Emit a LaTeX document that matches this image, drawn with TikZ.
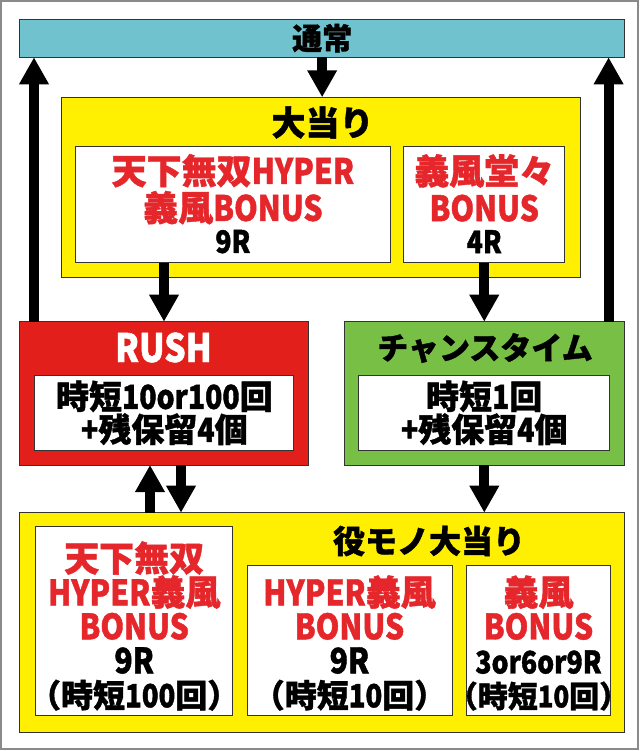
\documentclass[tikz,border=0pt]{standalone}
\usepackage{fontspec}
\usetikzlibrary{arrows.meta}
\IfFontExistsTF{Noto Sans CJK JP Black}
 {\newfontfamily\jpfam{Noto Sans CJK JP Black}[FakeBold=1.2]\newfontfamily\ltfam{Noto Sans CJK JP Black}[FakeStretch=0.86,FakeBold=1.2]}
 {\newfontfamily\jpfam{Noto Sans CJK JP Bold}[FakeBold=2.2]\newfontfamily\ltfam{Noto Sans CJK JP Bold}[FakeStretch=0.86,FakeBold=2.2]}
\newcommand\LT[1]{{\ltfam #1}}
\newcommand\fs[2]{\fontsize{#1}{#2}\selectfont}
\definecolor{barc}{HTML}{70C3CE}
\definecolor{yel}{HTML}{FFEF00}
\definecolor{rushred}{HTML}{E31F1C}
\definecolor{grn}{HTML}{77BF45}
\definecolor{txtred}{HTML}{E5262B}
\definecolor{framegray}{HTML}{8A8A8A}
\begin{document}
\begin{tikzpicture}[x=1pt,y=-1pt,
  box/.style={draw=black!80, line width=0.9pt, anchor=north west, inner sep=0pt, outer sep=0pt},
  arr/.style={line width=10pt, -{Triangle[width=28pt,length=27pt]}},
  txt/.style={inner sep=0pt, align=center},
]
\useasboundingbox (0,0) rectangle (642,751);
\fill[white] (0,0) rectangle (642,751);
\draw[framegray, line width=2pt] (1,1) rectangle (637.5,748.5);
% boxes
\node[box, fill=barc, minimum width=604.9pt, minimum height=38.3pt] (bar) at (19.7,19) {};
\node[box, fill=yel, minimum width=518.5pt, minimum height=180.4pt] (oa) at (61.5,97.3) {};
\node[box, fill=white, minimum width=314.2pt, minimum height=116pt] (w1) at (75.8,146.7) {};
\node[box, fill=white, minimum width=161.1pt, minimum height=116pt] (w2) at (403.7,146.7) {};
\node[box, fill=rushred, minimum width=288.9pt, minimum height=143.3pt] (rush) at (19.7,321.7) {};
\node[box, fill=white, minimum width=259.1pt, minimum height=75.7pt] (rin) at (34.8,375) {};
\node[box, fill=grn, minimum width=280.6pt, minimum height=143.3pt] (chance) at (344,321.7) {};
\node[box, fill=white, minimum width=251.2pt, minimum height=75.7pt] (cin) at (358.6,375) {};
\node[box, fill=yel, minimum width=604.9pt, minimum height=219.6pt] (yb) at (19.7,512.7) {};
\node[box, fill=white, minimum width=197.1pt, minimum height=189.7pt] (wa) at (35.7,526) {};
\node[box, fill=white, minimum width=205pt, minimum height=150.4pt] (wb) at (247,565.3) {};
\node[box, fill=white, minimum width=144.3pt, minimum height=150.4pt] (wc) at (466.4,565.3) {};
% texts
\node[txt, font=\jpfam\fs{30}{30}] (tn) at (bar.center) {通常};
\node[txt, font=\jpfam\fs{34}{34}] (tat) at (322.5,122.5) {大当り};
\node[txt, text=txtred, font=\jpfam\fs{35}{37}] (t1) at ([yshift=1pt]w1.center) {天下無双\LT{HYPER}\\義風\LT{BONUS}\\[-5pt]{\color{black}\fs{31}{37}\LT{9R}}};
\node[txt, text=txtred, font=\jpfam\fs{35}{37}] (t2) at ([yshift=1pt]w2.center) {義風堂々\\\LT{BONUS}\\[-5pt]{\color{black}\fs{31}{37}\LT{4R}}};
\node[txt, text=white, font=\ltfam\fs{39}{39}] (tr) at (163.5,347.5) {RUSH};
\node[txt, font=\jpfam\fs{31}{31}] (tc) at (485,348) {チャンスタイム};
\node[txt, font=\jpfam\fs{33}{33}] (tri) at (rin.center) {時短\LT{10or100}回\\\LT{+}残保留\LT{4}個};
\node[txt, font=\jpfam\fs{33}{33}] (tci) at (cin.center) {時短\LT{1}回\\\LT{+}残保留\LT{4}個};
\node[txt, font=\jpfam\fs{32}{32}] (ty) at (429,541) {役モノ大当り};
\node[txt, text=txtred, font=\jpfam\fs{35}{34}] (ta1) at (134.2,626) {天下無双\\\LT{HYPER}義風\\\LT{BONUS}\\{\color{black}\fs{35}{34}\LT{9R}}\\{\color{black}\fs{32}{34}（時短\LT{100}回）}};
\node[txt, text=txtred, font=\jpfam\fs{35}{34}] (tb1) at (349.5,643) {\LT{HYPER}義風\\\LT{BONUS}\\{\color{black}\fs{35}{34}\LT{9R}}\\{\color{black}\fs{32}{34}（時短\LT{10}回）}};
\node[txt, text=txtred, font=\jpfam\fs{35}{34}] (tc1) at (538.5,643) {義風\\\LT{BONUS}\\{\color{black}\fs{31}{34}\LT{3or6or9R}}\\{\color{black}\fs{30}{34}（時短\LT{10}回）}};
% arrows
\draw[arr] (bar.south) -- (bar.south |- oa.north);
\draw[arr] ([xshift=88.2pt]w1.south west) -- ([xshift=88.2pt]w1.south west |- rush.north);
\draw[arr] (w2.south) -- (w2.south |- chance.north);
\draw[arr] ([xshift=14.3pt]rush.north west) -- ([xshift=14.3pt]rush.north west |- bar.south);
\draw[arr] ([xshift=-16pt]chance.north east) -- ([xshift=-16pt]chance.north east |- bar.south);
\draw[arr] ([xshift=130.3pt]rush.south west |- yb.north) -- ([xshift=130.3pt]rush.south west);
\draw[arr] ([xshift=161.3pt]rush.south west) -- ([xshift=161.3pt]rush.south west |- yb.north);
\draw[arr] (chance.south) -- (chance.south |- yb.north);
\end{tikzpicture}
\end{document}
